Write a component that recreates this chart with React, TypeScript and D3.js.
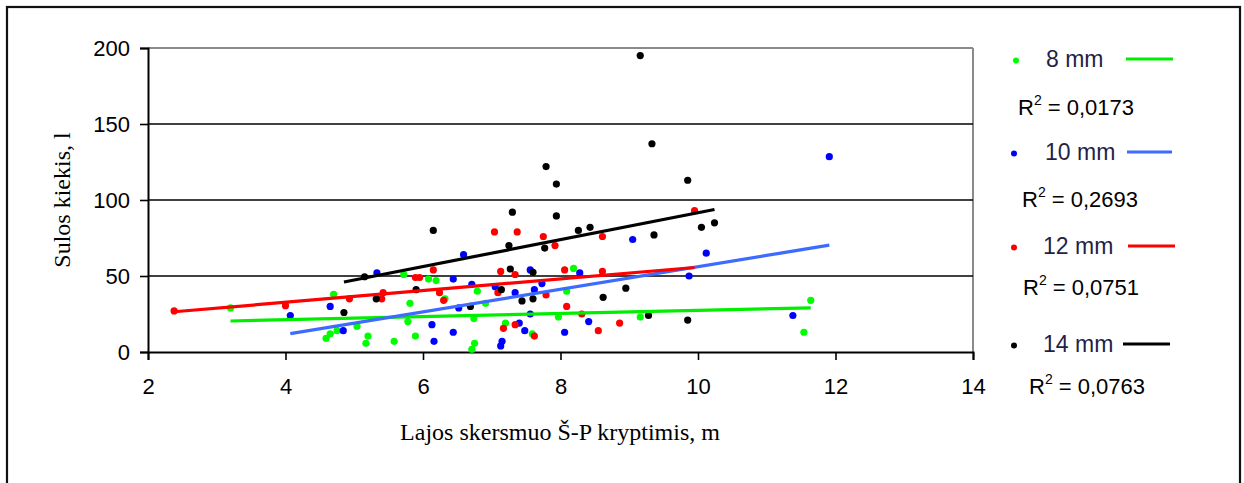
import { useEffect, useRef } from 'react'
import * as d3 from 'd3'

// series: [x (m), y (l)]
const s8: [number, number][] = [
  [3.2, 29], [4.7, 38], [4.59, 9], [4.65, 12], [4.75, 14], [5.04, 17], [5.2, 10.5], [5.17, 5.7],
  [5.58, 7], [5.72, 51], [6.08, 48], [6.19, 47], [6.32, 35], [5.81, 32], [5.78, 20], [5.89, 10.5],
  [6.79, 40], [6.91, 32], [6.74, 22], [6.75, 5.7], [6.71, 1.8], [8.19, 55], [8.09, 40], [7.97, 23],
  [9.16, 23], [7.2, 19], [7.59, 12], [11.64, 34], [11.54, 13],
]
const s10: [number, number][] = [
  [4.07, 24], [4.65, 30], [4.84, 14], [5.33, 52], [6.59, 64], [6.44, 48], [6.13, 18], [6.16, 7],
  [6.44, 13], [6.52, 29], [6.71, 44.5], [7.05, 43], [7.34, 39], [7.62, 41], [7.73, 45], [7.56, 54],
  [8.28, 52], [7.56, 25], [8.41, 20], [7.4, 19], [7.48, 14], [8.06, 13], [7.15, 7], [7.13, 4],
  [9.05, 74], [10.12, 65], [9.87, 50], [11.38, 24], [11.91, 128.5],
]
const s12: [number, number][] = [
  [2.38, 27], [4.0, 30.5], [4.93, 35], [5.4, 35], [5.42, 39], [5.89, 49], [5.95, 49], [6.15, 54],
  [7.04, 79], [6.24, 39], [6.3, 34], [7.09, 39], [7.13, 53], [7.37, 79], [7.75, 76], [7.92, 70],
  [8.61, 76], [9.95, 93], [7.34, 51], [8.06, 54], [8.61, 53], [7.79, 37.5], [8.09, 30], [8.31, 25],
  [8.86, 19], [7.17, 15.6], [7.34, 18], [7.62, 10.5], [8.55, 14],
]
const s14: [number, number][] = [
  [4.85, 26], [5.15, 49.5], [5.32, 35], [6.15, 80], [5.9, 41], [6.69, 30], [7.94, 110.5], [9.85, 113],
  [7.3, 92], [7.94, 89.5], [7.25, 70], [7.77, 68.4], [8.26, 80], [8.43, 82], [9.36, 77], [10.05, 82],
  [10.24, 85], [7.27, 54.6], [7.6, 52.4], [7.14, 41], [7.44, 33.6], [7.6, 35], [8.62, 36], [8.95, 42],
  [9.28, 24], [9.85, 21], [9.16, 195], [9.33, 137], [7.79, 122],
]

const seriesNames = ['8 mm', '10 mm', '12 mm', '14 mm']
const r2Labels = ['0,0173', '0,2693', '0,0751', '0,0763']
// linear trend: y = a + b*x
const trendA = [17.1, -18.1, 17.3, 3.1]
const trendB = [1.03, 7.42, 3.85, 8.85]
const dotColors = ['#00ff00', '#0000ff', '#ff0000', '#000000']
const lineColors = ['#00ee00', '#3d6bff', '#ff0000', '#000000']

const xTicks = [2, 4, 6, 8, 10, 12, 14]
const yTicks = [0, 50, 100, 150, 200]

const W = 1244, H = 483

export default function App() {
  const ref = useRef<SVGSVGElement>(null)

  useEffect(() => {
    const svg = d3.select(ref.current)
    svg.selectAll('*').remove()
    const allSeries = [s8, s10, s12, s14]

    const x = d3.scaleLinear().domain([2, 14]).range([148, 973])
    const y = d3.scaleLinear().domain([0, 200]).range([352, 48])

    // outer frame (bottom edge runs off the picture)
    svg.append('rect').attr('x', 7).attr('y', 7).attr('width', 1233).attr('height', 520)
      .attr('fill', '#fff').attr('stroke', '#111').attr('stroke-width', 2.2)

    // plot frame: gray top/right
    svg.append('line').attr('x1', 148).attr('x2', 973).attr('y1', y(200)).attr('y2', y(200))
      .attr('stroke', '#8a8a8a').attr('stroke-width', 2)
    svg.append('line').attr('x1', 973).attr('x2', 973).attr('y1', y(200)).attr('y2', y(0))
      .attr('stroke', '#8a8a8a').attr('stroke-width', 2)

    // grid
    svg.append('g').selectAll('line').data(yTicks.filter(t => t > 0 && t < 200)).join('line')
      .attr('x1', 148).attr('x2', 973).attr('y1', d => y(d)).attr('y2', d => y(d))
      .attr('stroke', '#000').attr('stroke-width', 1.6)

    // y axis
    svg.append('g').attr('transform', 'translate(148,0)')
      .call(d3.axisLeft(y).tickValues(yTicks).tickSize(8).tickPadding(10).tickFormat(d => String(d)))
      .call(g => {
        g.select('.domain').attr('stroke', '#000').attr('stroke-width', 2)
        g.selectAll('.tick line').attr('stroke', '#000').attr('stroke-width', 1.6)
        g.selectAll('.tick text').attr('fill', '#000').attr('font-size', '22px').attr('font-family', 'Liberation Sans, Arial, sans-serif')
      })

    // x axis
    svg.append('g').attr('transform', `translate(0,${y(0)})`)
      .call(d3.axisBottom(x).tickValues(xTicks).tickSize(8).tickPadding(18).tickFormat(d => String(d)))
      .call(g => {
        g.select('.domain').attr('stroke', '#000').attr('stroke-width', 2)
        g.selectAll('.tick line').attr('stroke', '#000').attr('stroke-width', 1.6)
        g.selectAll('.tick text').attr('fill', '#000').attr('font-size', '22px').attr('font-family', 'Liberation Sans, Arial, sans-serif')
      })

    // axis titles
    svg.append('text').attr('x', 560).attr('y', 440).attr('text-anchor', 'middle')
      .attr('font-family', 'Liberation Serif, Times New Roman, serif').attr('font-size', '24px').attr('fill', '#000')
      .text('Lajos skersmuo Š-P kryptimis, m')
    svg.append('text').attr('transform', 'translate(70,200) rotate(-90)').attr('text-anchor', 'middle')
      .attr('font-family', 'Liberation Serif, Times New Roman, serif').attr('font-size', '24px').attr('fill', '#000')
      .text('Sulos kiekis, l')

    // points
    allSeries.forEach((data, i) => {
      svg.append('g').selectAll('circle').data(data).join('circle')
        .attr('cx', d => x(d[0])).attr('cy', d => y(d[1])).attr('r', 3.6)
        .attr('fill', dotColors[i])
    })

    // trend lines over each series' x extent
    allSeries.forEach((data, i) => {
      const [x0, x1] = d3.extent(data, d => d[0]) as [number, number]
      const pts: [number, number][] = [[x0, trendA[i] + trendB[i] * x0], [x1, trendA[i] + trendB[i] * x1]]
      svg.append('path').datum(pts)
        .attr('d', d3.line<[number, number]>().x(d => x(d[0])).y(d => y(d[1])))
        .attr('fill', 'none').attr('stroke', lineColors[i]).attr('stroke-width', 3.2)
    })

    // legend
    const legY = [59, 152, 246, 344]
    const legTextX = [1046, 1045, 1043, 1043]
    const legLine: [number, number][] = [[1126, 1173], [1127, 1172], [1128, 1175], [1123, 1170]]
    const r2Y = [115, 207, 295, 394]
    const r2X = [1018, 1022, 1023, 1029]
    const lg = svg.append('g').attr('font-family', 'Liberation Sans, Arial, sans-serif')
    seriesNames.forEach((name, i) => {
      lg.append('circle').attr('cx', 1016 - (i > 0 ? 2 : 0)).attr('cy', legY[i] + 1.5).attr('r', 3).attr('fill', dotColors[i])
      lg.append('text').attr('x', legTextX[i]).attr('y', legY[i] + 8).attr('font-size', '23px').attr('fill', '#1f1f4a')
        .text(name)
      lg.append('line').attr('x1', legLine[i][0]).attr('x2', legLine[i][1]).attr('y1', legY[i]).attr('y2', legY[i])
        .attr('stroke', lineColors[i]).attr('stroke-width', 3.2)
      const t = lg.append('text').attr('x', r2X[i]).attr('y', r2Y[i]).attr('font-size', '22px').attr('fill', '#000')
      t.append('tspan').text('R')
      t.append('tspan').attr('font-size', '14px').attr('dy', -10).text('2')
      t.append('tspan').attr('dy', 10).text(` = ${r2Labels[i]}`)
    })
  }, [])

  return (
    <svg ref={ref} width={W} height={H}
      style={{ position: 'absolute', left: 0, top: 0, display: 'block', background: '#fff' }} />
  )
}
